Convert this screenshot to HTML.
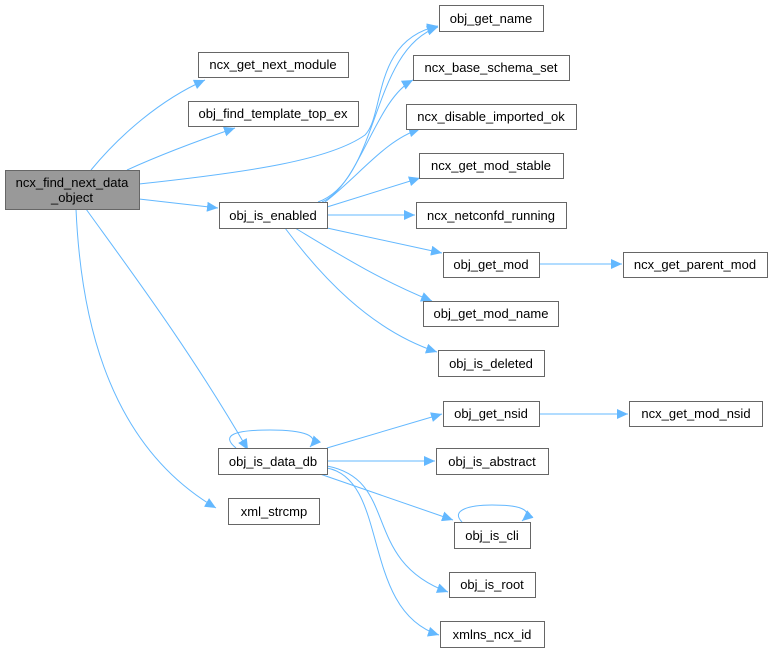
<!DOCTYPE html>
<html><head><meta charset="utf-8"><style>
html,body{margin:0;padding:0;background:#fff;width:772px;height:652px;overflow:hidden}
text{font-family:"Liberation Sans",Arial,sans-serif;font-size:13px;fill:#000}
</style></head><body>
<svg width="772" height="652" viewBox="0 0 772 652" xmlns="http://www.w3.org/2000/svg">
<defs><marker id="a" markerWidth="12" markerHeight="10" refX="11" refY="5" orient="auto" markerUnits="userSpaceOnUse"><path d="M0,0 L11,5 L0,10 z" fill="#63b8ff"/></marker></defs>
<g fill="none" stroke="#63b8ff" stroke-width="1" marker-end="url(#a)">
<path d="M91,170 C120,135 160,100 205,80"/>
<path d="M127,170 C160,155 200,140 235,128"/>
<path d="M139,184 C250,172 330,160 365,135 C385,115 372,40 438,26"/>
<path d="M139,199 L218,208"/>
<path d="M86,209 C130,270 190,350 248,450"/>
<path d="M76,209 C80,300 100,440 216,508"/>
<path d="M318,202 C380,180 370,50 438,27"/>
<path d="M322,202 C360,185 375,100 413,80"/>
<path d="M325,202 C360,175 385,140 420,129"/>
<path d="M327,207 L420,178"/>
<path d="M327,215 L415,215"/>
<path d="M327,228 L442,253"/>
<path d="M295,228 C340,255 380,280 432,301"/>
<path d="M285,228 C320,275 370,330 437,352"/>
<path d="M539,264 L622,264"/>
<path d="M327,448 L442,414"/>
<path d="M327,461 L435,461"/>
<path d="M320,474 L453,520"/>
<path d="M327,466 C400,480 360,560 448,592"/>
<path d="M327,468 C390,480 360,610 439,635"/>
<path d="M539,414 L628,414"/>
<path d="M236,448 C220,435 235,430 270,430 C305,430 320,436 310,447"/>
<path d="M462,522 C450,510 470,505 492,505 C520,505 535,510 522,521"/>
</g>
<g stroke="#666" stroke-width="1">
<rect x="5.5" y="170.5" width="134" height="39" fill="#999"/>
<g fill="#fff">
<rect x="198.5" y="52.5" width="150" height="25"/>
<rect x="188.5" y="101.5" width="170" height="25"/>
<rect x="219.5" y="202.5" width="108" height="26"/>
<rect x="439.5" y="5.5" width="104" height="26"/>
<rect x="413.5" y="55.5" width="156" height="25"/>
<rect x="406.5" y="104.5" width="170" height="25"/>
<rect x="419.5" y="153.5" width="144" height="25"/>
<rect x="416.5" y="202.5" width="150" height="26"/>
<rect x="443.5" y="252.5" width="96" height="25"/>
<rect x="623.5" y="252.5" width="144" height="25"/>
<rect x="423.5" y="301.5" width="135" height="25"/>
<rect x="438.5" y="350.5" width="106" height="26"/>
<rect x="443.5" y="401.5" width="96" height="25"/>
<rect x="629.5" y="401.5" width="133" height="25"/>
<rect x="218.5" y="448.5" width="109" height="26"/>
<rect x="436.5" y="448.5" width="112" height="26"/>
<rect x="228.5" y="498.5" width="91" height="26"/>
<rect x="454.5" y="522.5" width="76" height="26"/>
<rect x="449.5" y="572.5" width="86" height="25"/>
<rect x="440.5" y="621.5" width="104" height="26"/>
</g></g>
<g text-anchor="middle">
<text x="72" y="187">ncx_find_next_data</text><text x="72" y="202">_object</text>
<text x="273" y="69">ncx_get_next_module</text>
<text x="273" y="118">obj_find_template_top_ex</text>
<text x="273" y="220">obj_is_enabled</text>
<text x="491" y="23">obj_get_name</text>
<text x="491" y="72">ncx_base_schema_set</text>
<text x="491" y="121">ncx_disable_imported_ok</text>
<text x="491" y="170">ncx_get_mod_stable</text>
<text x="491" y="220">ncx_netconfd_running</text>
<text x="491" y="269">obj_get_mod</text>
<text x="695" y="269">ncx_get_parent_mod</text>
<text x="491" y="318">obj_get_mod_name</text>
<text x="491" y="368">obj_is_deleted</text>
<text x="491" y="418">obj_get_nsid</text>
<text x="696" y="418">ncx_get_mod_nsid</text>
<text x="273" y="466">obj_is_data_db</text>
<text x="492" y="466">obj_is_abstract</text>
<text x="274" y="516">xml_strcmp</text>
<text x="492" y="540">obj_is_cli</text>
<text x="492" y="589">obj_is_root</text>
<text x="492" y="639">xmlns_ncx_id</text>
</g>
</svg>
</body></html>
